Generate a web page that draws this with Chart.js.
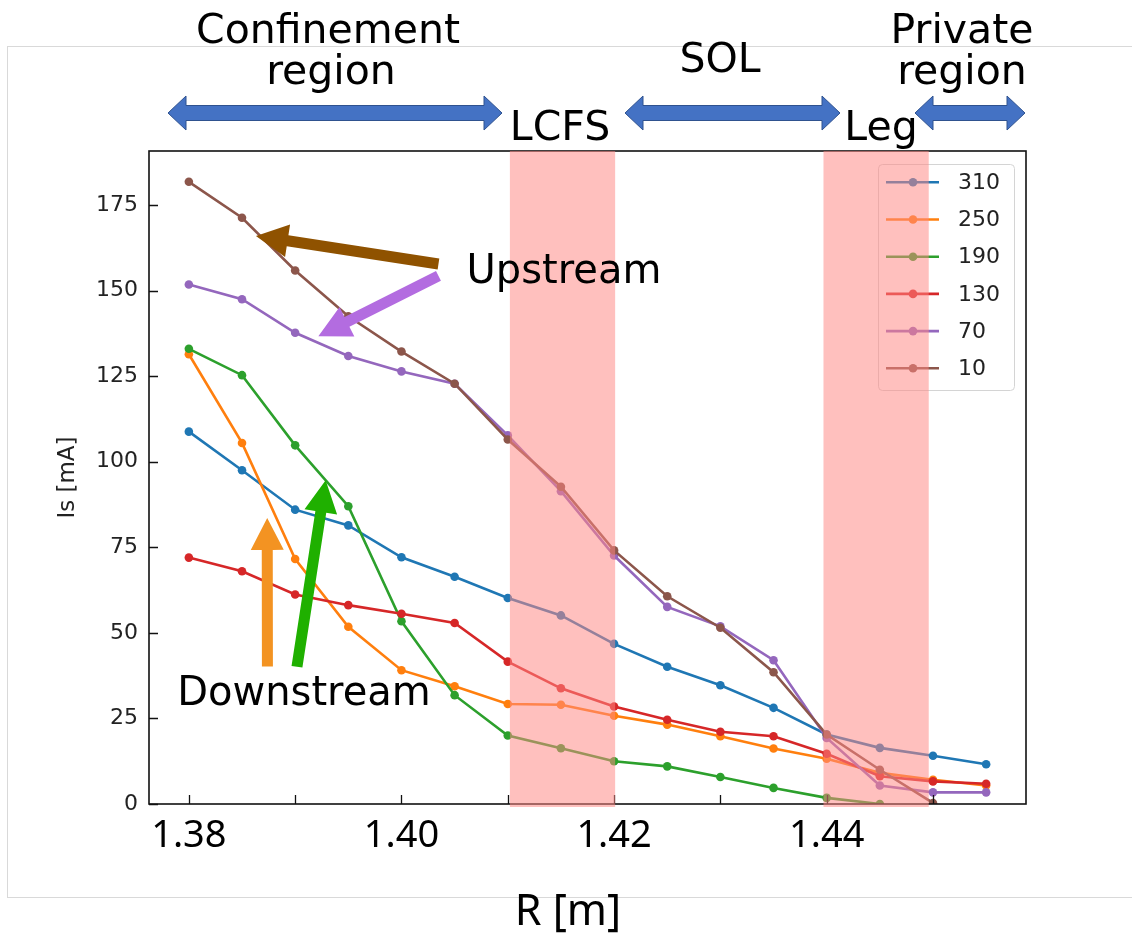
<!DOCTYPE html>
<html>
<head>
<meta charset="utf-8">
<script src="https://cdn.jsdelivr.net/npm/chart.js@4.4.1/dist/chart.umd.min.js"></script>
<style>
  body { margin: 0; background: #fff; }
  #wrap { width: 1132px; height: 936px; }
</style>
</head>
<body>
<div id="wrap"><canvas id="chart" width="1132" height="936"></canvas></div>
<script>
// probe positions R [m]
const radius = [1.38, 1.385, 1.39, 1.395, 1.40, 1.405, 1.41, 1.415,
                1.42, 1.425, 1.43, 1.435, 1.44, 1.445, 1.45, 1.455];

// ion saturation current Is [mA] for each shot time
const is310 = [108.8, 97.5, 86.0, 81.4, 72.1, 66.4, 60.2, 55.1, 46.8, 40.1, 34.7, 28.1, 20.3, 16.4, 14.1, 11.6];
const is250 = [131.4, 105.5, 71.6, 51.8, 39.1, 34.4, 29.2, 29.0, 25.8, 23.2, 19.8, 16.2, 13.2, 9.1, 7.1, 5.4];
const is190 = [133.0, 125.3, 104.8, 87.0, 53.4, 31.8, 20.0, 16.3, 12.5, 11.0, 7.9, 4.7, 1.8, 0];
const is130 = [72.0, 68.0, 61.2, 58.1, 55.6, 52.9, 41.6, 33.8, 28.5, 24.6, 21.1, 19.8, 14.7, 8.1, 6.6, 5.9];
const is70  = [151.8, 147.5, 137.7, 130.9, 126.4, 122.8, 107.7, 91.4, 72.6, 57.6, 51.9, 42.0, 19.3, 5.4, 3.4, 3.4];
const is10  = [181.8, 171.3, 155.9, 142.5, 132.2, 122.8, 106.5, 92.7, 74.1, 60.7, 51.5, 38.5, 20.3, 10.0, 0.3];

const seriesNames = ['310', '250', '190', '130', '70', '10'];
const seriesValues = [is310, is250, is190, is130, is70, is10];
const seriesColors = ['#1f77b4', '#ff7f0e', '#2ca02c', '#d62728', '#9467bd', '#8c564b'];

const xTicks = [1.38, 1.39, 1.40, 1.41, 1.42, 1.43, 1.44, 1.45];
const xLabels = ['1.38', '1.40', '1.42', '1.44'];
const yTicks = [0, 25, 50, 75, 100, 125, 150, 175];

// LCFS and leg zones
const bands = [[1.4102, 1.4201], [1.4397, 1.4496]];

// annotation arrows in data units
const plotArrows = [
  { from: [1.40348, 157.8], to: [1.38631, 166.0], color: '#8f5200' },
  { from: [1.40348, 154.3], to: [1.39218, 136.7], color: '#b36ce0' },
  { from: [1.38739, 40.2], to: [1.38737, 83.6], color: '#f39322' },
  { from: [1.39017, 40.1], to: [1.39287, 94.6], color: '#1fb000' }
];

const ctx = document.getElementById('chart').getContext('2d');

function blockArrow(c, x1, y1, x2, y2, shaft, headW, headL) {
  const dx = x2 - x1, dy = y2 - y1;
  const len = Math.hypot(dx, dy);
  const ux = dx / len, uy = dy / len;
  const nx = -uy, ny = ux;
  const bx = x2 - ux * headL, by = y2 - uy * headL;
  c.beginPath();
  c.moveTo(x1 + nx * shaft / 2, y1 + ny * shaft / 2);
  c.lineTo(bx + nx * shaft / 2, by + ny * shaft / 2);
  c.lineTo(bx + nx * headW / 2, by + ny * headW / 2);
  c.lineTo(x2, y2);
  c.lineTo(bx - nx * headW / 2, by - ny * headW / 2);
  c.lineTo(bx - nx * shaft / 2, by - ny * shaft / 2);
  c.lineTo(x1 - nx * shaft / 2, y1 - ny * shaft / 2);
  c.closePath();
  c.fill();
}

function doubleArrow(c, x1, x2, cy) {
  const s = 7.5, h = 17, l = 18;
  c.beginPath();
  c.moveTo(x1, cy);
  c.lineTo(x1 + l, cy - h);
  c.lineTo(x1 + l, cy - s);
  c.lineTo(x2 - l, cy - s);
  c.lineTo(x2 - l, cy - h);
  c.lineTo(x2, cy);
  c.lineTo(x2 - l, cy + h);
  c.lineTo(x2 - l, cy + s);
  c.lineTo(x1 + l, cy + s);
  c.lineTo(x1 + l, cy + h);
  c.closePath();
  c.fillStyle = '#4472c4';
  c.fill();
  c.strokeStyle = '#2f528f';
  c.lineWidth = 1;
  c.stroke();
}

const overlay = {
  id: 'overlay',
  beforeDraw(chart) {
    const c = chart.ctx;
    c.save();
    c.strokeStyle = '#d9d9d9';
    c.lineWidth = 1;
    c.strokeRect(7.5, 46.5, 1140, 851);
    c.restore();
  },
  afterDraw(chart) {
    const c = chart.ctx;
    const a = chart.chartArea;
    const xs = chart.scales.x, ys = chart.scales.y;
    c.save();

    // frame and inward ticks
    c.strokeStyle = '#111';
    c.lineWidth = 1.6;
    c.strokeRect(a.left, a.top, a.right - a.left, a.bottom - a.top);
    c.lineWidth = 1.3;
    c.beginPath();
    xTicks.forEach(v => {
      const px = Math.round(xs.getPixelForValue(v)) + 0.5;
      c.moveTo(px, a.bottom); c.lineTo(px, a.bottom - 9);
    });
    yTicks.forEach(v => {
      const py = Math.round(ys.getPixelForValue(v)) + 0.5;
      c.moveTo(a.left, py); c.lineTo(a.left + 9, py);
    });
    c.stroke();

    // legend
    const lx = 878.5, ly = 164.5, lw = 136, lh = 226;
    c.beginPath();
    c.roundRect(lx, ly, lw, lh, 4);
    c.fillStyle = 'rgba(255,255,255,0.8)';
    c.fill();
    c.strokeStyle = '#d4d4d4';
    c.lineWidth = 1;
    c.stroke();
    c.font = '22px "DejaVu Sans"';
    c.textBaseline = 'middle';
    c.textAlign = 'left';
    seriesNames.forEach((name, i) => {
      const ry = 182.3 + i * 37.2;
      c.strokeStyle = seriesColors[i];
      c.lineWidth = 2.6;
      c.beginPath(); c.moveTo(886, ry); c.lineTo(939, ry); c.stroke();
      c.fillStyle = seriesColors[i];
      c.beginPath(); c.arc(913, ry, 4.3, 0, Math.PI * 2); c.fill();
      c.fillStyle = '#222';
      c.fillText(name, 958, ry + 1);
    });

    // shaded zones
    c.fillStyle = 'rgba(255,136,132,0.53)';
    bands.forEach(([b0, b1]) => {
      const p0 = xs.getPixelForValue(b0), p1 = xs.getPixelForValue(b1);
      c.fillRect(p0, a.top, p1 - p0, a.bottom + 3 - a.top);
    });

    // arrows inside the plot
    plotArrows.forEach(ar => {
      c.fillStyle = ar.color;
      blockArrow(c, xs.getPixelForValue(ar.from[0]), ys.getPixelForValue(ar.from[1]),
                 xs.getPixelForValue(ar.to[0]), ys.getPixelForValue(ar.to[1]), 11, 33, 32);
    });

    // region arrows on top
    doubleArrow(c, 168, 502, 113);
    doubleArrow(c, 625, 840, 113);
    doubleArrow(c, 915, 1025, 113);

    // labels
    c.fillStyle = '#000';
    c.textAlign = 'center';
    c.textBaseline = 'alphabetic';
    c.font = '41px "DejaVu Sans"';
    c.fillText('Confinement', 328, 43);
    c.fillText('region', 331, 84);
    c.fillText('SOL', 720, 72);
    c.fillText('Private', 962, 43);
    c.fillText('region', 962, 84);
    c.fillText('LCFS', 560, 140);
    c.fillText('Leg', 881, 140);
    c.font = '40px "DejaVu Sans"';
    c.fillText('Upstream', 564, 283);
    c.fillText('Downstream', 304, 705);
    c.font = '43px "Noto Sans"';
    c.fillText('R [m]', 568, 925);
    c.restore();
  }
};

new Chart(ctx, {
  type: 'line',
  data: {
    datasets: seriesNames.map((name, i) => ({
      label: name,
      data: seriesValues[i].map((v, j) => ({ x: radius[j], y: v })),
      borderColor: seriesColors[i],
      backgroundColor: seriesColors[i],
      borderWidth: 2.6,
      pointRadius: 4.3,
      pointHoverRadius: 4.3,
      pointBorderWidth: 0,
      tension: 0,
      order: seriesNames.length - 1 - i
    }))
  },
  options: {
    responsive: false,
    animation: false,
    events: [],
    layout: { padding: { left: 0, top: 151, right: 106, bottom: 0 } },
    plugins: { legend: { display: false }, tooltip: { enabled: false } },
    scales: {
      x: {
        type: 'linear',
        min: 1.37625,
        max: 1.45875,
        afterBuildTicks: s => { s.ticks = xTicks.map(v => ({ value: v })); },
        afterFit: s => { s.height = 132; },
        grid: { display: false, drawTicks: false },
        border: { display: false },
        ticks: {
          padding: 9,
          maxRotation: 0,
          autoSkip: false,
          color: '#000',
          font: { family: '"Noto Sans"', size: 38 },
          callback: v => {
            const t = v.toFixed(2);
            return xLabels.includes(t) ? t : '';
          }
        }
      },
      y: {
        min: 0,
        max: 190.8,
        afterBuildTicks: s => { s.ticks = yTicks.map(v => ({ value: v })); },
        afterFit: s => { s.width = 149; },
        grid: { display: false, drawTicks: false },
        border: { display: false },
        ticks: {
          padding: 11,
          color: '#222',
          font: { family: '"DejaVu Sans"', size: 22 }
        },
        title: {
          display: true,
          text: 'Is [mA]',
          color: '#222',
          font: { family: '"DejaVu Sans"', size: 23, lineHeight: 1.2 },
          padding: { top: 54, bottom: 0 }
        }
      }
    }
  },
  plugins: [overlay]
});
</script>
</body>
</html>
